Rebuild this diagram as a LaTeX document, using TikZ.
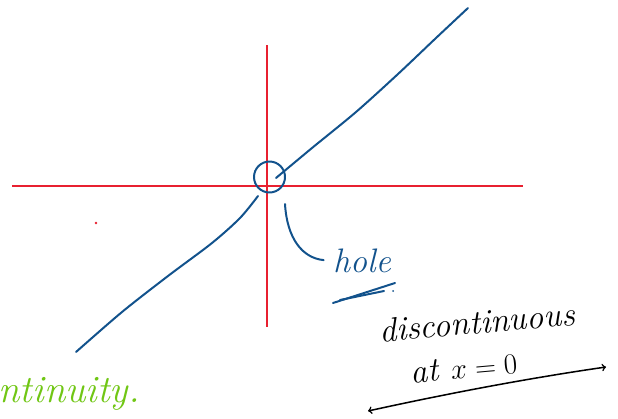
\documentclass[tikz,border=0pt]{standalone}
\usetikzlibrary{calc}
\definecolor{axisred}{RGB}{232,32,48}
\definecolor{penblue}{RGB}{18,82,140}
\definecolor{pengreen}{RGB}{112,198,20}
\tikzset{
    axis/.style={axisred, line width=1.1pt},
    pen/.style={penblue, line width=1.7pt, line cap=round, line join=round},
    ink/.style={inner sep=0pt, font=\fontsize{29}{34}\selectfont\itshape},
}

\begin{document}
\begin{tikzpicture}[x=0.03cm, y=-0.03cm]
    \useasboundingbox (0,0) rectangle (618,418);

    % mark axis ends
        \coordinate (W) at (12,186);
        \coordinate (E) at (523,186);
        \coordinate (N) at (267,45);
        \coordinate (S) at (267,327);

    % draw axes
        \draw[axis] (W) -- (E);
        \draw[axis] (N) -- (S);
        \fill[axisred] (96,223) circle (1.3);

    % draw the line, broken at the origin
        \draw[pen] plot[smooth] coordinates {(76,352) (122,312) (168,276) (212,243) (240,218) (258,196)};
        \draw[pen] plot[smooth] coordinates {(276,178) (312,148) (356,112) (398,74) (436,38) (468,8)};

    % mark the hole
        \node[pen, draw, circle, minimum size=31*0.03cm, inner sep=0pt] (hole) at (269.5,177) {};
        \coordinate (hk) at (285,204);
        \node[ink, penblue, anchor=west] (holetext) at (333,261) {hole};
        \draw[pen] (hk) .. controls (287,238) and (302,258) .. (holetext.west) [shorten >=8pt];
        \draw[pen] (333,303) -- (395,283);
        \draw[pen] (340,300) -- (384,291);
        \fill[penblue] (393,291) circle (1);

    % label the discontinuity
        \node[ink, rotate=5] (disc) at (477,322) {discontinuous};
        \node[ink, rotate=5] (atx) at (464,368) {at $x=0$};
        \coordinate (A1) at (368,411);
        \coordinate (A2) at (606,367);
        \draw[<->, line width=1.3pt] (A1) .. controls (450,393) and (530,378) .. (A2);

    % cut off note
        \node[ink, pengreen, anchor=base east, font=\fontsize{33}{38}\selectfont\itshape] (cont) at (140,402) {ntinuity.};

\end{tikzpicture}
\end{document}
